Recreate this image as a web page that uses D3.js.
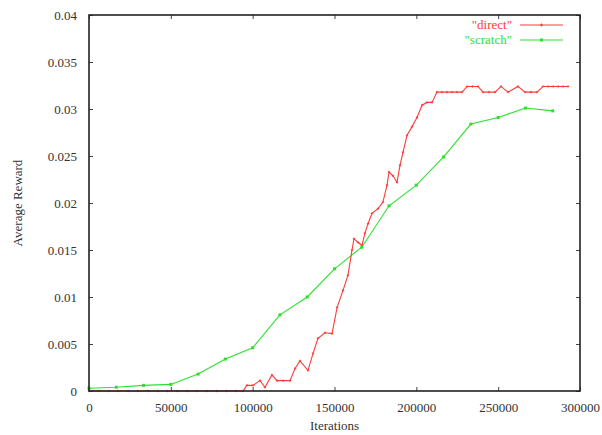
<!DOCTYPE html>
<html>
<head>
<meta charset="utf-8">
<script src="https://cdn.jsdelivr.net/npm/d3@7"></script>
<style>
  body { margin: 0; background: #fff; }
  text { font-family: "Liberation Serif", "DejaVu Serif", serif; fill: #333; }
</style>
</head>
<body>
<svg class="chart" width="602" height="435"></svg>
<script>
'use strict';

// Data
var xTicks = [0, 50000, 100000, 150000, 200000, 250000, 300000];
var yTicks = [0, 0.005, 0.01, 0.015, 0.02, 0.025, 0.03, 0.035, 0.04];

var seriesNames = ['"direct"', '"scratch"'];

var directIter = [0, 6000, 12000, 18000, 24000, 30000, 36000, 42000, 48000, 54000, 60000, 66000, 72000, 78000, 84000, 90000,
  94100, 96500, 100200, 104500, 107500, 111800, 114900, 118500, 122800, 125900, 128900, 133800, 136900, 139900,
  144200, 148500, 151600, 155200, 158200, 160700, 161900, 164400, 166800, 168600, 170500, 172900, 176600, 179600,
  182100, 183300, 185700, 188200, 190000, 191900, 194300, 197300, 200400, 203500, 206500, 209600, 212600,
  215600, 218700, 221800, 224800, 227900, 231000, 234300, 237700, 240700, 244400, 248100, 251700, 256000,
  262100, 266400, 270000, 273700, 277400, 280500, 283600, 286600, 289700, 292700];
var directValue = [0, 0, 0, 0, 0, 0, 0, 0, 0, 0, 0, 0, 0, 0, 0, 0,
  0, 0.0006, 0.0006, 0.0011, 0.0004, 0.0017, 0.0011, 0.0011, 0.0011, 0.0024, 0.0032, 0.0022, 0.0040, 0.0056,
  0.0062, 0.0061, 0.0089, 0.0107, 0.0123, 0.0150, 0.0162, 0.0158, 0.0155, 0.0168, 0.0178, 0.0189, 0.0194, 0.0201,
  0.0219, 0.0233, 0.0229, 0.0222, 0.0240, 0.0254, 0.0272, 0.0281, 0.0291, 0.0304, 0.0307, 0.0307, 0.0318,
  0.0318, 0.0318, 0.0318, 0.0318, 0.0318, 0.0324, 0.0324, 0.0324, 0.0318, 0.0318, 0.0318, 0.0324, 0.0318,
  0.0324, 0.0318, 0.0318, 0.0318, 0.0324, 0.0324, 0.0324, 0.0324, 0.0324, 0.0324];

var scratchIter = [0, 16667, 33333, 50000, 66667, 83333, 100000, 116667, 133333, 150000, 166667, 183333,
  200000, 216667, 233333, 250000, 266667, 283333];
var scratchValue = [0.0003, 0.0004, 0.0006, 0.0007, 0.0018, 0.0034, 0.0046, 0.0081, 0.0100, 0.0130, 0.0153, 0.0197,
  0.0219, 0.0249, 0.0284, 0.0291, 0.0301, 0.0298];

var colors = ['#ff3a3a', '#2ee02e'];

var margin = { top: 15, right: 22, bottom: 44, left: 89 };
var width = 602, height = 435;
var graphWidth = width - margin.left - margin.right;
var graphHeight = height - margin.top - margin.bottom;

var xScale = d3.scaleLinear().domain([0, 300000]).range([0, graphWidth]);
var yScale = d3.scaleLinear().domain([0, 0.04]).range([graphHeight, 0]);

var svg = d3.select('svg.chart');
var graph = svg.append('g').attr('transform', 'translate(' + margin.left + ',' + margin.top + ')');

//Ticks on all four sides, pointing inward
graph.append('g').attr('transform', 'translate(0,' + graphHeight + ')')
  .call(d3.axisBottom(xScale).tickValues(xTicks).tickSizeInner(-4).tickSizeOuter(0).tickPadding(12)
    .tickFormat(d3.format('.0f')));
graph.append('g')
  .call(d3.axisTop(xScale).tickValues(xTicks).tickSizeInner(-4).tickSizeOuter(0).tickFormat(''));
graph.append('g')
  .call(d3.axisLeft(yScale).tickValues(yTicks).tickSizeInner(-4).tickSizeOuter(0).tickPadding(12)
    .tickFormat(function (d) { return d === 0 ? '0' : d3.format('')(+d.toFixed(3)); }));
graph.append('g').attr('transform', 'translate(' + graphWidth + ',0)')
  .call(d3.axisRight(yScale).tickValues(yTicks).tickSizeInner(-4).tickSizeOuter(0).tickFormat(''));

graph.selectAll('.domain').remove();
graph.selectAll('.tick line').attr('stroke', '#444');
graph.selectAll('.tick text').style('font-size', '13px').attr('fill', '#333')
  .style('font-family', '"Liberation Serif", serif');

//Lines
var line = d3.line().x(function (d) { return xScale(d[0]); }).y(function (d) { return yScale(d[1]); });

var directData = directIter.map(function (d, i) { return [d, directValue[i]]; });
var scratchData = scratchIter.map(function (d, i) { return [d, scratchValue[i]]; });

graph.append('path').datum(scratchData).attr('d', line)
  .attr('fill', 'none').attr('stroke', colors[1]).attr('stroke-width', 1.1);
graph.append('path').datum(directData).attr('d', line)
  .attr('fill', 'none').attr('stroke', colors[0]).attr('stroke-width', 1.1);

//Markers
graph.selectAll('.pt-direct').data(directData).enter().append('path').classed('pt-direct', true)
  .attr('d', function (d) {
    var x = xScale(d[0]), y = yScale(d[1]);
    return 'M' + (x - 1.2) + ',' + y + 'H' + (x + 1.2) + 'M' + x + ',' + (y - 1.2) + 'V' + (y + 1.2);
  })
  .attr('stroke', colors[0]).attr('stroke-width', 0.9);
graph.selectAll('.pt-scratch').data(scratchData).enter().append('rect').classed('pt-scratch', true)
  .attr('x', function (d) { return xScale(d[0]) - 1.5; })
  .attr('y', function (d) { return yScale(d[1]) - 1.5; })
  .attr('width', 3).attr('height', 3).attr('fill', colors[1]);

//Border
graph.append('rect').attr('width', graphWidth).attr('height', graphHeight)
  .attr('fill', 'none').attr('stroke', '#222').attr('stroke-width', 1.6);

//Legend
var legend = graph.append('g').attr('transform', 'translate(' + (graphWidth - 68) + ',10)');
seriesNames.forEach(function (name, i) {
  var row = legend.append('g').attr('transform', 'translate(0,' + (i * 15) + ')');
  row.append('text').attr('x', 0).attr('y', 4).style('text-anchor', 'end').style('font-size', '13px')
    .style('fill', colors[i]).text(name);
  row.append('line').attr('x1', 8).attr('x2', 51).attr('y1', 0).attr('y2', 0)
    .attr('stroke', colors[i]).attr('stroke-width', 1.1);
  if (i === 0) {
    row.append('path').attr('d', 'M28,0H31M29.5,-1.5V1.5').attr('stroke', colors[i]);
  } else {
    row.append('rect').attr('x', 28).attr('y', -1.5).attr('width', 3).attr('height', 3).attr('fill', colors[i]);
  }
});

//Axis labels
svg.append('text').attr('x', margin.left + graphWidth / 2).attr('y', 430)
  .style('text-anchor', 'middle').style('font-size', '13px').text('Iterations');
svg.append('text').attr('transform', 'translate(22,' + (margin.top + graphHeight / 2) + ') rotate(-90)')
  .style('text-anchor', 'middle').style('font-size', '13px').text('Average Reward');
</script>
</body>
</html>
